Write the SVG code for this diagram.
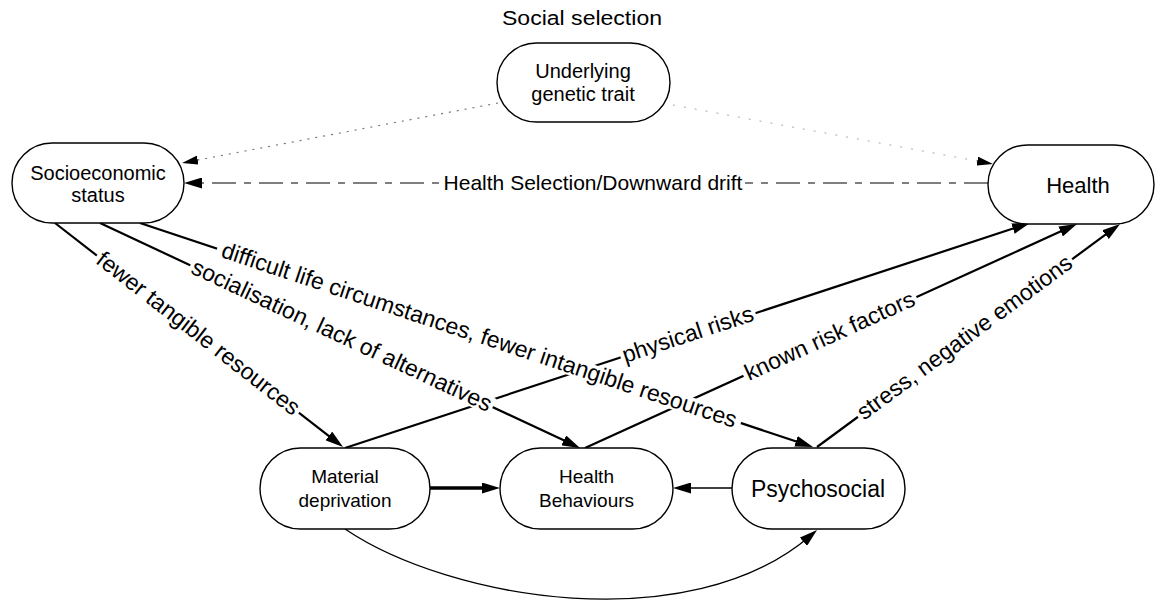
<svg xmlns="http://www.w3.org/2000/svg" width="1156" height="601" viewBox="0 0 1156 601">
<style>
  .node rect { fill: #fff; stroke: #000; stroke-width: 1.4; }
  text { font-family: "Liberation Sans", Arial, sans-serif; fill: #000; }
  .nt { font-size: 20px; text-anchor: middle; }
  .lbl { font-size: 23px; text-anchor: middle; }
  .bg { fill: #fff; stroke: none; }
  .c { fill: none; stroke: #000; stroke-width: 2.2; }
</style>
<defs>
  <marker id="ah" viewBox="0 0 18 11" refX="10" refY="5.5" markerWidth="18" markerHeight="11" markerUnits="userSpaceOnUse" orient="auto">
    <path d="M0,0 L18,5.5 L0,11 z" fill="#000"/>
  </marker>
  <marker id="ahs" viewBox="0 0 16 9" refX="8" refY="4.5" markerWidth="16" markerHeight="9" markerUnits="userSpaceOnUse" orient="auto">
    <path d="M0,0 L16,4.5 L0,9 z" fill="#000"/>
  </marker>
</defs>

<text x="582" y="25" style="font-size:20px" text-anchor="middle" textLength="160" lengthAdjust="spacingAndGlyphs">Social selection</text>

<g id="connectors">
  <path d="M498,103 L189.9,161.5" fill="none" stroke="#777" stroke-width="1.2" stroke-dasharray="2 6" marker-end="url(#ahs)"/>
  <path d="M673,105 L985.1,162.5" fill="none" stroke="#aaa" stroke-width="1" stroke-dasharray="2 9" marker-end="url(#ahs)"/>
  <path d="M988,183 L192,183" fill="none" stroke="#555" stroke-width="1.3" stroke-dasharray="24 8 7 8" marker-end="url(#ah)"/>
  <path class="c" d="M55,223 L336.7,442.1" marker-end="url(#ah)"/>
  <path class="c" d="M100,223 L572.8,444.6" marker-end="url(#ah)"/>
  <path class="c" d="M140,223 L805.4,444.5" marker-end="url(#ah)"/>
  <path class="c" d="M345,448 L1022.4,225.5" marker-end="url(#ah)"/>
  <path class="c" d="M585,448 L1069.7,227.3" marker-end="url(#ah)"/>
  <path class="c" d="M817,447 L1113.6,228.7" marker-end="url(#ah)"/>
  <path d="M430,488 L492,488" fill="none" stroke="#000" stroke-width="3.6" marker-end="url(#ah)"/>
  <path d="M732,488 L681,488" fill="none" stroke="#000" stroke-width="1.3" marker-end="url(#ah)"/>
  <path d="M345,529 C450,600 690,640 811,535.2" fill="none" stroke="#000" stroke-width="1.3" marker-end="url(#ah)"/>

  <g id="label-backgrounds">
    <rect class="bg" x="-152" y="-10" width="304" height="19" transform="translate(593,183)"/>
    <rect class="bg" x="-128" y="-9" width="256" height="18" transform="translate(198,334) rotate(37.87)"/>
    <rect class="bg" x="-167" y="-9" width="334" height="18" transform="translate(341.5,336.2) rotate(25.11)"/>
    <rect class="bg" x="-276" y="-9" width="552" height="18" transform="translate(479,335.8) rotate(18.41)"/>
    <rect class="bg" x="-71" y="-9" width="142" height="18" transform="translate(688,335) rotate(-18.19)"/>
    <rect class="bg" x="-95" y="-9" width="190" height="18" transform="translate(830,336.5) rotate(-24.48)"/>
    <rect class="bg" x="-133" y="-9" width="266" height="18" transform="translate(965,338) rotate(-36.35)"/>
  </g>

  <text class="lbl" style="font-size:21px" x="593" y="183" dy="0.35em">Health Selection/Downward drift</text>
  <text class="lbl" transform="translate(198,334) rotate(37.87)" dy="0.3em">fewer tangible resources</text>
  <text class="lbl" transform="translate(341.5,336.2) rotate(25.11)" dy="0.3em">socialisation, lack of alternatives</text>
  <text class="lbl" transform="translate(479,335.8) rotate(18.41)" dy="0.3em">difficult life circumstances, fewer intangible resources</text>
  <text class="lbl" transform="translate(688,335) rotate(-18.19)" dy="0.3em">physical risks</text>
  <text class="lbl" transform="translate(830,336.5) rotate(-24.48)" dy="0.3em">known risk factors</text>
  <text class="lbl" transform="translate(965,338) rotate(-36.35)" dy="0.3em">stress, negative emotions</text>
</g>

<g id="n-genetic" class="node">
  <rect x="497" y="43" width="173" height="79" rx="39.5"/>
  <text class="nt" x="583" y="78">Underlying</text>
  <text class="nt" x="583" y="101">genetic trait</text>
</g>
<g id="n-ses" class="node">
  <rect x="12" y="143" width="172" height="80" rx="40"/>
  <text class="nt" x="98" y="180">Socioeconomic</text>
  <text class="nt" x="98" y="202">status</text>
</g>
<g id="n-health" class="node">
  <rect x="988" y="145" width="166" height="79" rx="39.5"/>
  <text class="nt" style="font-size:22px" x="1078" y="193">Health</text>
</g>
<g id="n-material" class="node">
  <rect x="260" y="448" width="170" height="81" rx="40.5"/>
  <text class="nt" style="font-size:19px" x="345" y="483">Material</text>
  <text class="nt" style="font-size:19px" x="345" y="507">deprivation</text>
</g>
<g id="n-behaviours" class="node">
  <rect x="500" y="448" width="173" height="81" rx="40.5"/>
  <text class="nt" style="font-size:19px" x="586.5" y="483">Health</text>
  <text class="nt" style="font-size:19px" x="586.5" y="507">Behaviours</text>
</g>
<g id="n-psychosocial" class="node">
  <rect x="732" y="448" width="173" height="81" rx="40.5"/>
  <text class="nt" style="font-size:23px" x="818" y="497">Psychosocial</text>
</g>
</svg>
